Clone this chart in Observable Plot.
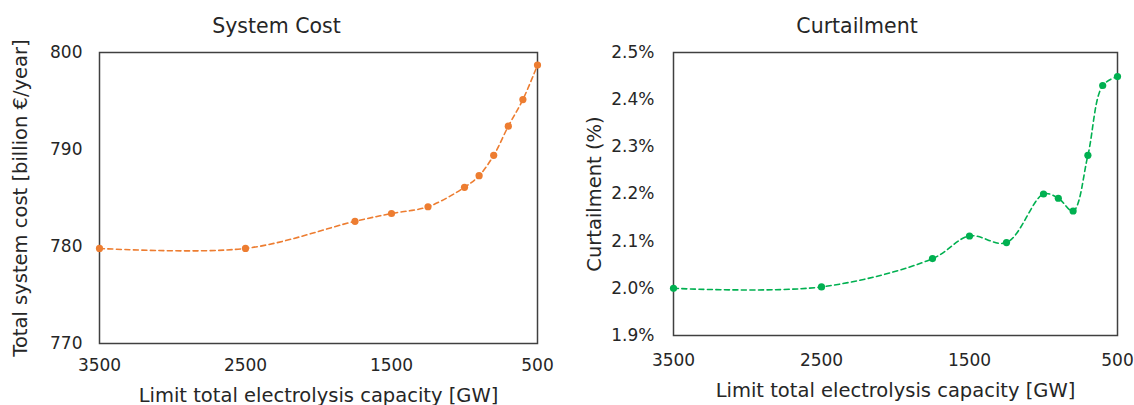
<!DOCTYPE html>
<html>
<head>
<meta charset="utf-8">
<script src="https://cdn.jsdelivr.net/npm/d3@7"></script>
<script src="https://cdn.jsdelivr.net/npm/@observablehq/plot@0.6"></script>
<style>
  html, body { margin: 0; padding: 0; background: #fff; }
  #wrap { position: relative; width: 1134px; height: 405px; overflow: hidden; font-family: "Century Gothic", "DejaVu Sans", sans-serif; }
  .title { position: absolute; top: 12px; height: 28px; line-height: 28px; text-align: center; font-size: 20.5px; color: #262626; }
  .chart { position: absolute; top: 40px; }
</style>
</head>
<body>
<div id="wrap">
  <div class="title" style="left:0;width:553px">System Cost</div>
  <div class="title" style="left:580px;width:554px">Curtailment</div>
  <div id="c1" class="chart" style="left:0"></div>
  <div id="c2" class="chart" style="left:567px"></div>
</div>
<script>
// Data
const capacity = [3500, 2500, 1750, 1500, 1250, 1000, 900, 800, 700, 600, 500];
const systemCost = [779.8, 779.8, 782.6, 783.4, 784.1, 786.1, 787.3, 789.4, 792.4, 795.15, 798.7];
const curtailment = [2.000, 2.003, 2.063, 2.111, 2.097, 2.200, 2.191, 2.164, 2.282, 2.430, 2.449];
const xTicks = [3500, 2500, 1500, 500];
const costTicks = [770, 780, 790, 800];
const curtTicks = [1.9, 2.0, 2.1, 2.2, 2.3, 2.4, 2.5];

const costData = capacity.map((c, i) => ({capacity: c, value: systemCost[i]}));
const curtData = capacity.map((c, i) => ({capacity: c, value: curtailment[i]}));

const font = '"Century Gothic", "DejaVu Sans", sans-serif';
const textColor = "#262626";

function makeChart({data, color, width, height, marginLeft, marginRight, marginTop, marginBottom,
                    yDomain, yTicks, yFormat, yLabel, xLabelOffset, yLabelOffset, yTickPadding, xTickPadding}) {
  return Plot.plot({
    width, height, marginLeft, marginRight, marginTop, marginBottom,
    style: {fontFamily: font, fontSize: "17px", color: textColor, background: "transparent"},
    x: {domain: [3500, 500], ticks: xTicks, tickFormat: d => String(d), tickSize: 0, tickPadding: xTickPadding},
    y: {domain: yDomain, ticks: yTicks, tickFormat: yFormat, tickSize: 0, tickPadding: yTickPadding},
    marks: [
      Plot.frame({stroke: "#404040", strokeWidth: 1.5}),
      Plot.axisX({ticks: xTicks, tickFormat: d => String(d), tickSize: 0, tickPadding: xTickPadding,
                  label: "Limit total electrolysis capacity [GW]", labelAnchor: "center",
                  labelOffset: xLabelOffset, labelArrow: "none", fontSize: 17}),
      Plot.axisY({ticks: yTicks, tickFormat: yFormat, tickSize: 0, tickPadding: yTickPadding,
                  label: yLabel, labelAnchor: "center", labelOffset: yLabelOffset, labelArrow: "none", fontSize: 17}),
      Plot.line(data, {x: "capacity", y: "value", stroke: color, strokeWidth: 1.6,
                       strokeDasharray: "5,3.5", curve: "catmull-rom"}),
      Plot.dot(data, {x: "capacity", y: "value", fill: color, r: 3.6})
    ]
  });
}

function enlargeLabels(svg) {
  svg.querySelectorAll('g[aria-label="x-axis label"] text, g[aria-label="y-axis label"] text')
    .forEach(t => t.setAttribute("font-size", "19.5"));
  svg.querySelectorAll('g[aria-label="x-axis label"], g[aria-label="y-axis label"]')
    .forEach(g => g.setAttribute("font-size", "19.5"));
  return svg;
}

const c1 = makeChart({
  data: costData, color: "#ED7D31", width: 567, height: 365,
  marginLeft: 99, marginRight: 30, marginTop: 12, marginBottom: 62,
  yDomain: [770, 800], yTicks: costTicks, yFormat: d => String(d),
  yLabel: "Total system cost [billion €/year]", xLabelOffset: 58, yLabelOffset: 86, yTickPadding: 17, xTickPadding: 15
});
document.getElementById("c1").appendChild(enlargeLabels(c1));

const c2 = makeChart({
  data: curtData, color: "#00B050", width: 567, height: 365,
  marginLeft: 106, marginRight: 17, marginTop: 12, marginBottom: 70,
  yDomain: [1.9, 2.5], yTicks: curtTicks, yFormat: d => d.toFixed(1) + "%",
  yLabel: "Curtailment (%)", xLabelOffset: 61, yLabelOffset: 86, yTickPadding: 19, xTickPadding: 18
});
document.getElementById("c2").appendChild(enlargeLabels(c2));
</script>
</body>
</html>
